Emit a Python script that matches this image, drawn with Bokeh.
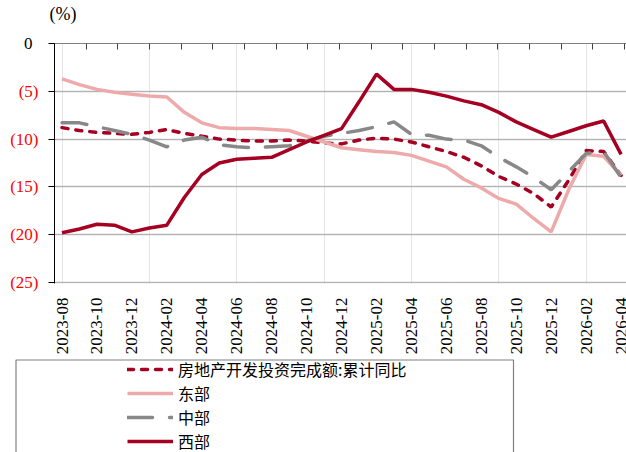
import math
from bokeh.plotting import figure
from bokeh.models import Range1d, FixedTicker, LinearAxis, Legend, LegendItem, Grid
from bokeh.embed import file_html
from bokeh.resources import INLINE

# ---------------- data ----------------
months = ["2023-08", "2023-09", "2023-10", "2023-11", "2023-12", "2024-01", "2024-02",
          "2024-03", "2024-04", "2024-05", "2024-06", "2024-07", "2024-08", "2024-09",
          "2024-10", "2024-11", "2024-12", "2025-01", "2025-02", "2025-03", "2025-04",
          "2025-05", "2025-06", "2025-07", "2025-08", "2025-09", "2025-10", "2025-11",
          "2025-12", "2026-01", "2026-02", "2026-03", "2026-04"]

total = [-8.8, -9.1, -9.3, -9.4, -9.5, -9.3, -9.0, -9.4, -9.7, -10.0, -10.1, -10.2, -10.2,
         -10.1, -10.2, -10.4, -10.5, -10.1, -9.9, -10.0, -10.3, -10.8, -11.3, -11.9, -12.8,
         -13.9, -14.7, -15.7, -17.1, -14.3, -11.2, -11.3, -13.8]
east = [-3.7, -4.3, -4.8, -5.1, -5.3, -5.5, -5.6, -7.2, -8.3, -8.8, -8.9, -8.9, -9.0,
        -9.1, -9.7, -10.3, -10.9, -11.1, -11.3, -11.4, -11.7, -12.3, -12.9, -14.2, -15.1,
        -16.2, -16.8, -18.3, -19.7, -15.3, -11.6, -11.8, -13.8]
middle = [-8.3, -8.3, -8.7, -9.1, -9.5, -10.1, -10.8, -10.1, -9.8, -10.6, -10.8, -10.9, -10.8,
          -10.7, -10.2, -9.7, -9.4, -9.1, -8.7, -8.2, -9.5, -9.6, -10.0, -10.1, -10.7,
          -11.9, -12.9, -14.0, -15.3, -13.4, -11.5, -11.3, -14.0]
west = [-19.8, -19.4, -18.9, -19.0, -19.7, -19.3, -19.0, -16.1, -13.7, -12.5, -12.1, -12.0, -11.9,
        -11.1, -10.3, -9.6, -8.9, -6.1, -3.2, -4.8, -4.8, -5.1, -5.5, -6.0, -6.4,
        -7.2, -8.2, -9.0, -9.8, -9.2, -8.6, -8.1, -11.6]

y_ticks = [0, -5, -10, -15, -20, -25]
y_tick_labels = ["0", "(5)", "(10)", "(15)", "(20)", "(25)"]
series_labels = ["房地产开发投资完成额:累计同比", "东部", "中部", "西部"]
unit_label = "(%)"

# ---------------- styles ----------------
DARK_RED = "#A50021"
PINK = "#EEAAAA"
GRAY = "#888888"
SERIF = "Liberation Serif"
styles = [
    dict(line_color=DARK_RED, line_width=3.5, line_dash="6 8", line_cap="round"),
    dict(line_color=PINK, line_width=3.5),
    dict(line_color=GRAY, line_width=3.5, line_dash="25 17", line_cap="round"),
    dict(line_color=DARK_RED, line_width=3.5),
]

x = list(range(len(months)))
x0, x1 = -0.43, 32.31

p = figure(width=626, height=358, output_backend="svg", toolbar_location=None,
           x_range=Range1d(x0, x1), y_range=Range1d(-25.1, 0),
           min_border_left=54, min_border_right=0, min_border_top=43, min_border_bottom=75,
           x_axis_location=None, y_axis_location=None)
p.outline_line_color = None
p.background_fill_color = "white"

# unit label as title
p.title.text = unit_label
p.title.align = "left"
p.title.offset = -5
p.title.standoff = 6
p.title.vertical_align = "top"
p.title.text_font = SERIF
p.title.text_font_size = "18px"
p.title.text_font_style = "normal"
p.title.text_color = "black"

# grid
p.add_layout(Grid(dimension=1, ticker=FixedTicker(ticks=y_ticks[1:]),
                  grid_line_color="#7f7f7f", grid_line_dash="1 1", grid_line_width=1.3))

# bottom axis: labels only
xb = LinearAxis(ticker=FixedTicker(ticks=x[::2], minor_ticks=[]),
                major_label_overrides={i: months[i] for i in x[::2]})
xb.major_label_orientation = math.pi / 2
xb.axis_line_color = None
xb.major_tick_line_color = None
xb.minor_tick_line_color = None
xb.major_label_standoff = 8
xb.major_label_text_font = SERIF
xb.major_label_text_font_size = "17px"
xb.major_label_text_color = "black"
p.add_layout(xb, "below")

# top axis: line + inner ticks (category axis crossing at 0); its labels are blank spacers
top_ticks = [x0 + k * 1.8128 for k in range(19)]
xt = LinearAxis(ticker=FixedTicker(ticks=top_ticks, minor_ticks=[]))
xt.major_label_text_font_size = "1px"
xt.major_label_text_color = "white"
xt.major_label_standoff = 11
xt.axis_line_color = "#808080"
xt.axis_line_width = 1.2
xt.major_tick_line_color = "#404040"
xt.major_tick_in = 6
xt.major_tick_out = 0
xt.minor_tick_line_color = None
p.add_layout(xt, "above")

# left axis (red negative labels)
yl = LinearAxis(ticker=FixedTicker(ticks=y_ticks, minor_ticks=[]),
                major_label_overrides={t: (lab if t != 0 else " ") for t, lab in zip(y_ticks, y_tick_labels)})
yl.axis_line_color = "black"
yl.major_tick_line_color = "black"
yl.major_tick_out = 6
yl.major_tick_in = 0
yl.minor_tick_line_color = None
yl.major_label_standoff = 10
yl.major_label_text_font = SERIF
yl.major_label_text_font_size = "17px"
yl.major_label_text_color = "#FF0000"
p.add_layout(yl, "left")

# zero label in black: outer axis pulled back towards the frame
yz = LinearAxis(ticker=FixedTicker(ticks=[0], minor_ticks=[]),
                major_label_overrides={0: y_tick_labels[0]})
yz.axis_line_color = None
yz.major_tick_line_color = None
yz.minor_tick_line_color = None
yz.major_tick_out = 0
yz.major_tick_in = 0
yz.major_label_standoff = -25
yz.major_label_text_font = SERIF
yz.major_label_text_font_size = "17px"
yz.major_label_text_color = "black"
p.add_layout(yz, "left")

for ys, st in zip([total, east, middle, west], styles):
    p.line(x, ys, **st)

# ---------------- legend panel ----------------
q = figure(width=626, height=94, output_backend="svg", toolbar_location=None,
           x_range=Range1d(0, 626), y_range=Range1d(0, 94), min_border=0,
           x_axis_location=None, y_axis_location=None)
q.outline_line_color = None
q.grid.visible = False
q.quad(left=[15.5], right=[513], top=[92.5], bottom=[-10], fill_color=None,
       line_color="#808080", line_width=1.2)

items = []
for lab, ys, st in zip(series_labels, [total, east, middle, west], styles):
    r = q.line(x, ys, **st)  # lies outside this panel's ranges; only its legend glyph shows
    items.append(LegendItem(label=lab, renderers=[r]))
legend = Legend(items=items, location=(127, -1), glyph_width=46, glyph_height=20,
                label_height=22, label_standoff=5, spacing=-1, padding=0, margin=0,
                border_line_color=None, background_fill_alpha=0,
                label_text_font="Noto Sans CJK SC", label_text_font_size="16px",
                label_text_color="black")
q.add_layout(legend)

open("out.html", "w").write(file_html([p, q], INLINE))
